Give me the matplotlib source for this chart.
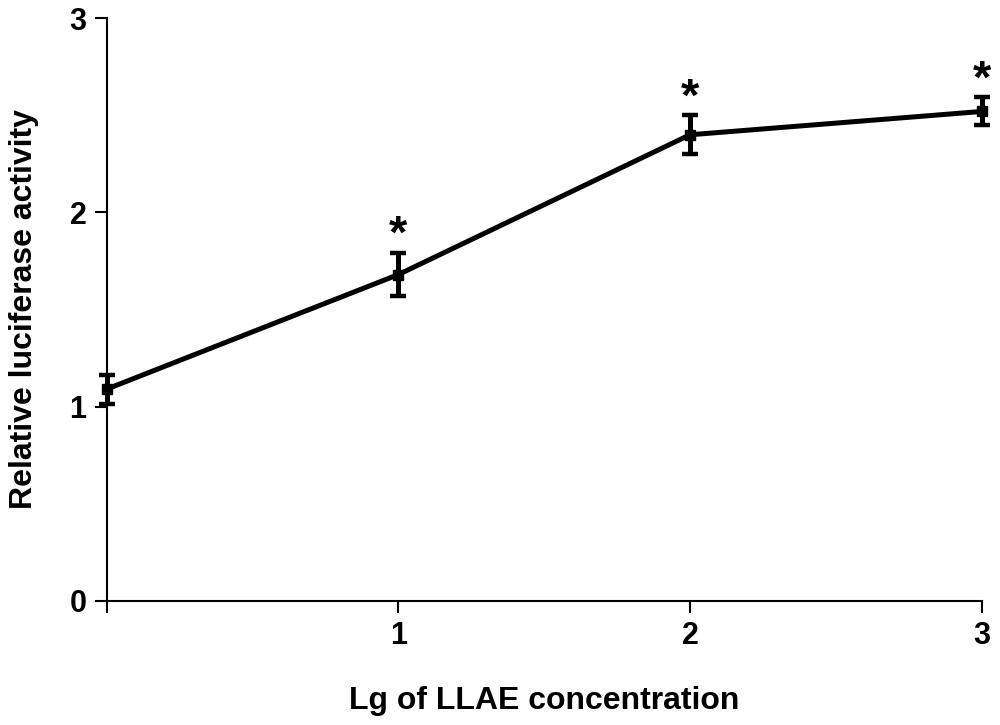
import matplotlib
matplotlib.use("Agg")
import matplotlib.pyplot as plt

plt.rcParams['font.family'] = ['Liberation Sans', 'DejaVu Sans']
plt.rcParams['font.weight'] = 'bold'

# Data
x_vals = [0, 1, 2, 3]
means = [1.09, 1.68, 2.40, 2.52]
errors = [0.075, 0.113, 0.10, 0.072]
significant = [False, True, True, True]
x_ticks = [0, 1, 2, 3]
x_ticklabels = ['', '1', '2', '3']
y_ticks = [0, 1, 2, 3]
y_ticklabels = ['0', '1', '2', '3']

fig = plt.figure(figsize=(10, 7.25), dpi=100)
ax = fig.add_axes([0.1067, 0.1714, 0.875, 0.8034])

ax.errorbar(x_vals, means, yerr=errors, color='black', linewidth=3.6,
            elinewidth=3.6, capsize=5.5, capthick=3.2, marker='s', markersize=7,
            clip_on=False, zorder=3)

for xv, m, e, s in zip(x_vals, means, errors, significant):
    if s:
        ax.annotate('*', xy=(xv, m + e), xytext=(0, -4), textcoords='offset points',
                    ha='center', va='bottom', fontsize=34, fontweight='bold')

ax.set_xlim(0, 3)
ax.set_ylim(0, 3)
ax.set_xticks(x_ticks)
ax.set_xticklabels(x_ticklabels)
ax.set_yticks(y_ticks)
ax.set_yticklabels(y_ticklabels)

for side in ['top', 'right']:
    ax.spines[side].set_visible(False)
for side in ['left', 'bottom']:
    ax.spines[side].set_linewidth(1.5)

ax.tick_params(axis='both', direction='out', length=8.5, width=1.5,
               labelsize=22, pad=6)
for lab in ax.get_xticklabels() + ax.get_yticklabels():
    lab.set_fontweight('bold')

ax.set_xlabel('Lg of LLAE concentration', fontsize=23, fontweight='bold', labelpad=25)
ax.set_ylabel('Relative luciferase activity', fontsize=23, fontweight='bold', labelpad=22)

fig.savefig('out.png', dpi=100)
